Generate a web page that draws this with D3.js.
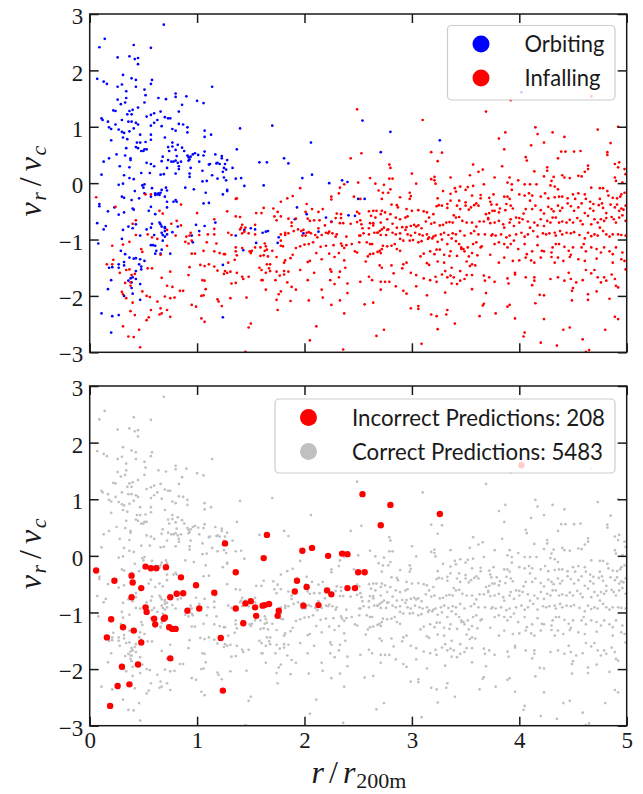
<!DOCTYPE html>
<html>
<head>
<meta charset="utf-8">
<script src="https://cdn.jsdelivr.net/npm/d3@7"></script>
<style>
  body { margin: 0; background: #fff; }
  .serif { font-family: "Liberation Serif", "DejaVu Serif", serif; }
  .sans { font-family: "Lato", "Open Sans", sans-serif; }
</style>
</head>
<body>
<svg id="fig" width="643" height="794"></svg>
<script>
// Particles as [r / r200m, v_r / v_c]
const orbiting = [
[.69,2.81],[.14,2.56],[.09,2.41],[.41,2.45],[.57,2.40],[.26,2.23],[.37,2.25],[.42,2.20],[.45,2.22],[.45,2.11],[.07,1.85],[.13,1.80],[.16,1.76],[.31,1.92],[.39,1.86],[.43,1.83],[.58,1.83],[.57,1.76],[.26,1.71],[.30,1.75],[.43,1.71],[.51,1.66],[1.14,1.71],[.34,1.63],[.52,1.56],[.80,1.59],[.80,1.53],[.90,1.54],[.26,1.48],[.34,1.51],[.64,1.51],[.71,1.49],[.29,1.40],[.33,1.43],[.51,1.43],[1.00,1.46],[1.06,1.42],[.86,1.39],[.22,1.29],[.24,1.28],[.37,1.28],[.40,1.30],[.45,1.34],[.35,1.22],[.39,1.22],[.83,1.27],[.11,1.15],[.12,1.12],[.17,1.09],[.30,1.12],[.24,1.04],[.36,1.09],[.39,1.09],[.43,1.07],[.45,1.04],[.53,1.18],[.57,1.21],[.60,1.24],[.66,1.27],[.70,1.17],[.73,1.15],[.75,1.15],[.63,1.12],[.60,1.07],[.57,1.02],[.67,1.01],[.77,.96],[.80,.93],[.83,1.05],[.87,1.04],[.91,.99],[.18,.99],[.20,.96],[.27,.95],[.30,.91],[.32,.89],[.37,.92],[.41,.97],[.47,.86],[.57,.86],[.91,.90],[1.07,.93],
[.31,.81],[.35,.78],[.20,.76],[.44,.72],[.47,.72],[.52,.73],[.57,.77],[.70,.81],[.77,.72],[.82,.68],[.77,.65],[1.07,.82],[1.13,.86],[.86,.63],[.43,.64],[.45,.62],[.48,.57],[.50,.57],[.51,.60],[.53,.60],[.34,.62],[.25,.51],[.33,.49],[.38,.44],[.38,.41],[.80,.59],[.73,.64],[.74,.57],[.88,.57],[.91,.49],[.92,.46],[.93,.42],[.94,.47],[.96,.51],[.98,.53],[1.01,.50],[1.07,.56],[1.17,.51],[1.23,.48],[1.23,.44],[1.06,.49],[.81,.48],
[.18,.44],[.13,.38],[.28,.30],[.37,.28],[.53,.36],[.57,.34],[.60,.30],[.68,.47],[.67,.39],[.73,.41],[.76,.38],[.78,.38],[.80,.40],[.82,.36],[.83,.30],[.83,.25],[.72,.27],[.85,.38],[.92,.40],[.94,.27],[1.02,.38],[1.11,.33],[1.12,.34],[1.18,.35],[1.19,.36],[1.21,.34],[.11,.15],[.32,.14],[.37,.09],[.41,.07],[.48,.18],[.56,.18],[.66,.15],[.69,.16],[.80,.17],[.93,.17],[.93,.11],[1.05,.22],[1.14,.14],[1.19,.08],[1.25,.10],[1.24,.20],
[.27,-.03],[.31,-.01],[.49,-.04],[.51,-.02],[.50,-.08],[.58,-.09],[.61,-.18],[.61,-.21],[.63,-.20],[.64,-.18],[.65,-.21],[.66,-.17],[.67,-.12],[.71,-.08],[.72,-.13],[.70,-.24],[.42,-.14],[.51,-.18],[.57,-.24],[.89,-.08],[.97,-.11],[1.08,-.17],[1.05,.03],[1.09,.04],[1.24,-.20],[.30,-.24],[.32,-.26],[.46,-.27],[.39,-.30],[.80,-.30],[.81,-.33],[.72,-.33],[.57,-.42],[.09,-.37],[.09,-.41],[.23,-.43],[.17,-.50],[.40,-.45],[.41,-.47],[.32,-.52],[.27,-.56],[.55,-.49],[.61,-.55],[.72,-.43],[.78,-.33],[1.06,-.36],[1.11,-.35],
[.07,-.71],[.15,-.76],[.13,-.82],[.43,-.73],[.58,-.72],[.36,-.77],[.65,-.70],[.66,-.73],[.67,-.77],[.70,-.78],[.70,-.80],[.70,-.85],[.67,-.88],[.68,-.92],[.70,-.95],[.72,-.91],[.77,-.87],[.40,-.80],[.31,-.83],[.53,-.82],[.57,-.79],[.82,-.77],[.99,-.74],[1.07,-.76],[1.17,-.70],[.30,-.99],[.47,-.93],[.60,-.92],[.68,-1.02],[.96,-1.05],[1.02,-.85],[.95,-.93],[.08,-1.07],[.57,-1.10],[.59,-1.10],[.61,-1.11],[.62,-1.20],[.67,-1.18],[.61,-1.25],[.66,-1.25],[.75,-1.25],[.29,-1.20],[.33,-1.26],[.37,-1.32],[.41,-1.34],[.43,-1.33],[.47,-1.35],[.51,-1.38],[.32,-1.40],[.27,-1.44],[.21,-1.49],[.27,-1.50],[.32,-1.46],[.46,-1.44],[.48,-1.48],[.43,-1.56],[.48,-1.53],[.40,-1.67],[.38,-1.69],[.39,-1.76],[.43,-1.70],[.36,-1.73],[.20,-1.72],[.18,-1.50],[.39,-1.86],[.17,-1.88],[.47,-1.79],[.40,-1.96],[.32,-2.00],[.47,-2.07],[.11,-2.31],[.21,-2.36],[.27,-2.34],[.20,-2.65],[1.24,-2.38],[1.24,-1.45],
[1.70,1.02],[1.40,.97],[1.37,.60],[2.06,.72],[1.28,.41],[1.26,.34],[1.25,.27],[1.27,.24],[1.27,.05],[1.33,.27],[1.58,.37],[1.65,.37],[1.81,.44],[1.85,.35],[1.36,.08],[1.41,.09],[1.44,-.05],[1.62,-.04],[1.98,.09],[2.07,.15],[2.23,.00],[2.35,.05],[2.40,.02],[1.28,-.14],[1.28,-.12],[2.50,-.28],[1.93,-.43],[1.91,-.64],[2.02,-.55],[2.20,-.61],[2.25,-.68],[2.41,-.57],[2.47,-.58],[1.50,-.80],[1.54,-.82],[1.44,-.83],[1.36,-.93],[1.61,-.88],[1.64,-.86],[1.66,-.85],[1.76,-.96],[1.75,-1.06],[1.55,-1.06],[1.99,-.89],[2.13,-.86],[1.43,-1.19],
[2.54,1.11],[2.80,.91],[3.26,.76],[2.71,.55],[2.56,-.28],[4.02,1.61]
];

const infalling = [
[.06,-.25],[.24,-.42],[.65,-.49],[.68,-.54],[.57,-.20],[.52,-.20],[.40,-.72],[.43,-.66],[.85,-.38],[1.00,-.53],[.81,-.67],[.85,-.75],[1.16,-.64],[1.16,-.81],[.76,-.72],[.72,-.83],[.80,-.93],[.90,-.95],[.93,-.93],[.95,-1.02],[.89,-1.04],[.92,-1.07],[.94,-.88],[1.02,-.92],[1.10,-.91],[1.16,-.91],[1.09,-1.05],[1.18,-1.07],[.43,-.92],[.31,-1.09],[.21,-1.11],[.54,-.91],[.58,-.96],[.63,-.99],[.37,-1.04],[.66,-1.27],[.48,-1.17],[.49,-1.22],[.72,-1.11],[.95,-1.25],[.98,-1.25],[1.06,-1.20],[1.16,-1.21],[1.21,-1.24],[1.25,-1.26],[.22,-1.36],[.21,-1.44],[.16,-1.44],[.28,-1.59],[.34,-1.54],[.37,-1.53],[.39,-1.63],[.42,-1.61],[.54,-1.51],[.58,-1.51],[.75,-1.57],[.93,-1.49],[1.03,-1.45],[1.07,-1.47],[1.11,-1.44],[1.16,-1.48],[1.19,-1.55],[1.25,-1.61],[.92,-1.63],[.33,-1.77],[.38,-1.76],[.38,-1.82],[.67,-1.68],[.72,-1.82],[.77,-1.84],[.79,-2.03],[1.05,-1.72],[1.07,-1.73],[1.08,-1.88],[.30,-1.93],[.31,-1.97],[.34,-2.04],[.49,-1.92],[.53,-2.00],[.56,-2.02],[.70,-2.01],[.75,-2.04],[.84,-1.91],[.87,-1.91],[1.04,-2.00],[1.06,-1.99],[1.19,-2.06],[1.20,-2.10],[.40,-2.12],[.63,-2.10],[.95,-2.16],[.99,-2.19],[1.23,-2.18],[.38,-2.27],[.42,-2.34],[.57,-2.25],[.66,-2.22],[.67,-2.31],[.72,-2.25],[.65,-2.33],[.75,-2.37],[.46,-2.60],[.31,-2.54],[.36,-2.72],[.41,-2.73],[.55,-2.38],[.53,-2.43],[1.04,-2.40],[1.07,-2.46],[.47,-2.91],
[2.49,1.31],[2.43,.44],[1.96,-.09],[2.33,-.08],[2.37,-.02],[2.25,-.24],[2.25,-.29],[2.32,-.18],[2.46,-.24],[1.36,-.28],[1.37,-.27],[1.28,-.50],[1.78,-.33],[1.84,-.27],[1.89,-.23],[1.71,-.45],[1.62,-.44],[1.55,-.53],[1.60,-.53],[1.75,-.51],[1.78,-.59],[1.72,-.59],[1.74,-.66],[1.85,-.63],[1.88,-.70],[1.92,-.63],[1.88,-.76],[1.94,-.82],[2.02,-.37],[2.01,-.51],[2.07,-.46],[2.13,-.51],[2.17,-.46],[2.03,-.63],[2.05,-.67],[2.09,-.66],[2.14,-.66],[2.13,-.80],[2.19,-.75],[2.25,-.69],[2.30,-.54],[2.34,-.55],[2.29,-.62],[2.34,-.62],[2.33,-.71],[2.36,-.71],[2.43,-.72],[2.49,-.69],[1.36,-.59],[1.40,-.60],[1.42,-.74],[1.41,-.79],[1.40,-.82],[1.44,-.86],[1.45,-.79],[1.54,-.74],[1.54,-.91],[1.29,-.88],[1.32,-.92],[1.42,-.89],[1.48,-.89],[1.78,-.91],[1.82,-.88],[1.82,-.92],[1.85,-.89],[1.90,-.85],[1.97,-.85],[1.99,-.83],[2.02,-.88],[2.04,-.87],[1.98,-.93],[2.01,-.93],[2.06,-.89],[2.10,-.92],[2.12,-.96],[2.16,-.92],[2.20,-.88],[2.22,-.89],[2.23,-.86],[2.26,-.89],[2.29,-.95],[2.30,-.91],[2.39,-.95],[2.51,-.93],[2.44,-1.08],[2.34,-1.07],[2.35,-1.11],[2.37,-1.15],[2.39,-1.10],[2.27,-1.10],[2.20,-1.11],[2.15,-1.13],[2.08,-1.05],[2.04,-1.08],[2.00,-1.09],[1.96,-1.12],[1.92,-1.15],[1.78,-1.02],[1.78,-1.11],[1.80,-1.12],[1.63,-1.07],[1.64,-1.12],[1.59,-1.14],[1.65,-1.18],[1.54,-1.14],[1.51,-1.20],[1.49,-1.21],[1.50,-1.24],[1.42,-1.15],[1.36,-1.14],[1.36,-1.21],[1.37,-1.28],[1.26,-1.26],[1.35,-1.36],[1.29,-1.41],[1.26,-1.56],[1.28,-1.59],[1.31,-1.57],[1.37,-1.59],[1.42,-1.66],[1.43,-1.70],[1.48,-1.66],[1.32,-1.78],[1.36,-1.77],[1.46,-2.03],[1.31,-2.04],[1.59,-1.29],[1.62,-1.28],[1.63,-1.20],[1.66,-1.30],[1.70,-1.20],[1.74,-1.31],[1.81,-1.41],[1.82,-1.37],[1.87,-1.33],[1.89,-1.27],[1.96,-1.54],[2.03,-1.40],[2.05,-1.38],[2.09,-1.59],[2.11,-1.24],[2.16,-1.35],[2.23,-1.25],[2.28,-1.31],[2.32,-1.24],[2.37,-1.37],[2.47,-1.21],[2.49,-1.23],[1.58,-1.50],[1.60,-1.54],[1.65,-1.44],[1.68,-1.44],[1.67,-1.51],[1.64,-1.59],[1.68,-1.56],[1.74,-1.57],[1.81,-1.56],[1.81,-1.62],[1.85,-1.57],[1.77,-1.64],[1.84,-1.76],[1.88,-1.84],[1.92,-1.89],[1.60,-1.72],[1.61,-1.72],[1.73,-1.72],[1.64,-1.89],[1.76,-1.97],[1.78,-1.92],[1.74,-2.07],[1.87,-2.09],[2.03,-1.72],[2.04,-2.08],[2.16,-1.89],[2.17,-2.03],[2.24,-1.53],[2.25,-1.57],[2.33,-1.57],[2.38,-1.50],[2.24,-1.72],[2.28,-1.79],[2.32,-1.67],[2.40,-1.78],[2.40,-1.95],[2.33,-2.08],[2.25,-2.16],[2.37,-2.31],[1.75,-2.25],[1.48,-2.56],[1.50,-2.49],[2.11,-2.54],[2.05,-2.79],[2.36,-2.95],[1.45,-2.99],
[3.69,1.27],[3.10,1.12],[2.53,.53],[3.18,.55],[3.28,.54],[3.24,.39],[2.79,.33],[2.80,.27],[3.57,.33],[3.66,.24],[3.62,.20],[3.54,.14],[3.00,.17],[2.61,.09],[2.79,.08],[2.82,.08],[3.18,.07],[3.21,.11],[3.21,.05],[3.22,-.01],[3.36,.10],[3.67,-.02],[2.50,.01],[2.66,-.01],[2.74,-.03],[2.73,-.17],[2.78,-.17],[2.80,-.11],[2.69,-.13],[2.72,-.28],[2.89,-.25],[2.98,-.17],[2.99,-.23],[2.98,-.28],[3.04,-.01],[3.24,-.27],[3.29,-.14],[3.33,-.37],[3.36,-.19],[3.40,-.09],[3.41,-.15],[3.45,-.06],[3.50,-.12],[3.52,-.07],[3.57,-.05],[3.56,-.22],[3.64,-.21],[3.64,-.27],[3.72,-.26],[3.73,-.33],[3.74,-.38],[2.52,-.28],[2.49,-.51],[2.51,-.54],[2.60,-.50],[2.64,-.49],[2.67,-.49],[2.72,-.49],[2.75,-.52],[2.62,-.58],[2.66,-.61],[2.71,-.55],[2.81,-.38],[2.86,-.39],[2.87,-.43],[2.80,-.55],[2.85,-.61],[2.89,-.64],[2.94,-.61],[2.96,-.59],[2.95,-.46],[3.00,-.49],[3.06,-.48],[3.11,-.50],[3.14,-.52],[3.16,-.61],[3.20,-.55],[3.23,-.41],[3.25,-.39],[3.28,-.40],[3.33,-.44],[3.36,-.31],[3.39,-.57],[3.42,-.40],[3.44,-.31],[3.45,-.46],[3.50,-.40],[3.50,-.34],[3.53,-.47],[3.55,-.43],[3.58,-.39],[3.60,-.36],[3.62,-.40],[3.69,-.55],[3.71,-.64],[3.72,-.53],[3.75,-.49],
[2.52,-.66],[2.53,-.73],[2.61,-.71],[2.64,-.71],[2.71,-.70],[2.77,-.64],[2.82,-.72],[2.54,-.80],[2.60,-.80],[2.64,-.75],[2.68,-.88],[2.70,-.85],[2.72,-.82],[2.74,-.79],[2.77,-.83],[2.78,-.82],[2.86,-.79],[2.91,-.78],[2.95,-.78],[2.99,-.76],[3.02,-.74],[3.04,-.77],[3.06,-.75],[3.09,-.80],[3.13,-.68],[3.18,-.72],[3.21,-.70],[3.26,-.75],[3.29,-.74],[3.32,-.70],[3.35,-.69],[3.38,-.70],[3.41,-.61],[3.44,-.60],[3.47,-.67],[3.51,-.70],[3.56,-.70],[3.60,-.77],[3.63,-.68],[3.67,-.68],[3.71,-.62],[3.73,-.71],[2.52,-.93],[2.55,-.89],[2.60,-.91],[2.65,-.88],[2.68,-.88],[2.71,-.92],[2.76,-.92],[2.82,-.88],[2.85,-.91],[2.89,-.89],[2.94,-.83],[2.96,-.91],[2.99,-.93],[3.03,-.88],[3.07,-.91],[3.10,-.93],[3.14,-.91],[3.16,-.96],[3.20,-.95],[3.22,-.93],[3.27,-.91],[3.30,-.88],[3.34,-.92],[3.38,-.89],[3.41,-.91],[3.45,-.85],[3.49,-.93],[3.55,-.89],[3.58,-.85],[3.62,-.91],[3.68,-.91],[3.74,-.93],
[2.51,-1.05],[2.58,-1.05],[2.61,-1.08],[2.63,-1.08],[2.73,-1.11],[2.77,-1.12],[2.81,-1.11],[2.84,-1.08],[2.89,-.99],[2.92,-1.02],[2.98,-1.02],[3.01,-1.01],[3.06,-1.05],[3.09,-1.03],[3.15,-.99],[3.19,-.98],[3.24,-1.04],[3.28,-1.00],[3.33,-1.08],[3.37,-.98],[3.41,-1.03],[3.44,-1.08],[3.46,-1.14],[3.48,-1.17],[3.52,-1.14],[3.57,-1.08],[3.60,-1.05],[3.65,-1.12],[2.68,-1.22],[2.70,-1.20],[2.72,-1.17],[2.61,-1.26],[2.59,-1.30],[2.57,-1.39],[2.64,-1.25],[2.71,-1.24],[2.86,-1.17],[2.89,-1.20],[3.08,-1.30],[3.11,-1.25],[3.17,-1.21],[3.21,-1.26],[3.23,-1.18],[3.26,-1.18],[3.30,-1.27],[3.35,-1.29],[3.36,-1.21],[3.42,-1.29],[3.46,-1.17],[3.49,-1.21],[3.53,-1.30],[3.56,-1.24],[3.61,-1.28],[3.64,-1.14],[3.73,-1.27],
[2.70,-1.46],[2.72,-1.50],[2.81,-1.46],[2.92,-1.44],[2.95,-1.41],[2.91,-1.51],[2.83,-1.60],[2.99,-1.59],[3.04,-1.63],[3.14,-1.42],[3.16,-1.45],[3.24,-1.39],[3.30,-1.41],[3.31,-1.56],[3.37,-1.50],[3.36,-1.64],[3.39,-1.67],[3.45,-1.56],[3.51,-1.39],[3.54,-1.47],[3.56,-1.44],[3.51,-1.63],[3.56,-1.63],[3.59,-1.46],[3.67,-1.64],[3.68,-1.73],[3.72,-1.67],[2.60,-1.66],[2.63,-1.72],[2.52,-1.75],[2.71,-1.75],[2.75,-1.75],[2.79,-1.75],[2.85,-1.83],[2.92,-1.91],[2.95,-1.96],[3.04,-1.83],[3.11,-1.69],[3.17,-1.72],[3.22,-1.66],[3.23,-1.75],[3.28,-1.62],[3.33,-1.67],[3.37,-1.78],[3.42,-1.79],[3.45,-1.73],[3.49,-1.70],[3.56,-1.88],[3.31,-1.94],[2.71,-1.89],[3.14,-1.99],[3.69,-1.95],[2.56,-2.15],[2.64,-2.12],[2.99,-2.22],[3.06,-2.18],[3.06,-2.23],[3.18,-2.33],[3.23,-2.36],[3.32,-2.33],[3.33,-2.25],[3.40,-2.49],[3.63,-2.36],[3.66,-2.17],[3.67,-2.14],[2.74,-2.60],[2.67,-2.71],[3.24,-2.59],[3.09,-2.85],
[4.67,1.54],[3.92,1.47],[4.15,.99],[3.87,.90],[3.81,.79],[4.31,.90],[4.17,.87],[4.23,.72],[4.11,.67],[4.42,.82],[3.86,.60],[4.39,.56],[4.43,.56],[4.51,.56],[4.57,.57],[4.73,.95],[4.92,1.00],[4.85,.71],[4.82,.55],[4.82,.50],[4.06,.46],[4.07,.40],[3.84,.30],[4.36,.44],[4.14,.21],[4.26,.28],[4.26,.22],[4.64,.31],[4.64,.25],[4.61,.20],[4.58,.12],[4.89,.34],[4.93,.37],[4.92,.28],[4.98,.25],[4.99,.16],[4.89,.10],[3.77,.10],[3.89,.01],[3.91,.10],[3.93,-.02],[3.99,.05],[4.05,-.02],[4.10,-.02],[4.16,-.02],[4.23,.12],[4.32,.11],[4.30,.04],[4.40,.14],[4.42,.10],[4.47,.09],[4.55,.13],[4.29,-.04],[4.33,-.06],[4.36,-.11],[4.67,-.08],[4.75,-.09],[4.78,-.09],[4.82,-.14],[4.90,.04],[4.96,.01],
[3.76,-.20],[3.86,-.24],[3.89,-.24],[3.91,-.28],[3.92,-.40],[3.88,-.37],[3.93,-.12],[4.00,-.20],[4.05,-.22],[4.09,-.18],[4.12,-.22],[4.10,-.31],[4.20,-.24],[4.24,-.18],[4.27,-.27],[4.33,-.25],[4.37,-.24],[4.40,-.24],[4.45,-.27],[4.50,-.20],[4.52,-.28],[4.55,-.18],[4.61,-.20],[4.62,-.28],[4.66,-.33],[4.69,-.37],[4.75,-.28],[4.77,-.36],[4.83,-.22],[4.87,-.26],[4.91,-.27],[4.94,-.24],[4.95,-.20],[4.98,-.17],[3.79,-.38],[3.77,-.49],[3.81,-.52],[3.82,-.45],[3.87,-.48],[3.94,-.45],[3.97,-.61],[4.00,-.62],[4.04,-.54],[4.06,-.46],[4.12,-.46],[4.15,-.40],[4.20,-.48],[4.23,-.54],[4.27,-.42],[4.30,-.46],[4.32,-.50],[4.36,-.40],[4.38,-.49],[4.40,-.44],[4.45,-.36],[4.48,-.41],[4.51,-.49],[4.55,-.43],[4.58,-.36],[4.61,-.53],[4.66,-.45],[4.69,-.49],[4.74,-.39],[4.78,-.44],[4.81,-.53],[4.85,-.38],[4.89,-.43],[4.91,-.38],[4.93,-.49],[4.95,-.45],[4.97,-.47],[4.99,-.40],
[3.77,-.70],[3.81,-.67],[3.85,-.73],[3.86,-.79],[3.91,-.70],[3.92,-.64],[3.95,-.76],[4.00,-.70],[4.03,-.64],[4.08,-.68],[4.10,-.79],[4.14,-.70],[4.17,-.75],[4.20,-.64],[4.23,-.76],[4.26,-.67],[4.29,-.70],[4.31,-.61],[4.34,-.61],[4.37,-.70],[4.40,-.68],[4.44,-.70],[4.47,-.65],[4.50,-.70],[4.54,-.62],[4.57,-.67],[4.59,-.73],[4.64,-.58],[4.67,-.73],[4.70,-.64],[4.73,-.70],[4.75,-.79],[4.76,-.64],[4.79,-.67],[4.81,-.62],[4.86,-.60],[4.88,-.64],[4.90,-.70],[4.93,-.61],[4.96,-.57],[4.99,-.67],
[3.75,-.91],[3.78,-.93],[3.83,-.91],[3.88,-.96],[3.91,-.93],[3.95,-1.02],[3.97,-.91],[4.02,-.88],[4.05,-.95],[4.08,-.91],[4.13,-.85],[4.17,-.95],[4.22,-.89],[4.25,-.91],[4.28,-.89],[4.33,-.88],[4.34,-.93],[4.38,-.85],[4.40,-.91],[4.44,-.88],[4.48,-.89],[4.51,-.87],[4.56,-.92],[4.61,-.98],[4.64,-.88],[4.67,-.94],[4.70,-.91],[4.73,-.93],[4.78,-.85],[4.81,-.91],[4.84,-.95],[4.87,-.91],[4.92,-.91],[4.95,-.92],[4.99,-.93],
[3.77,-1.08],[3.81,-1.05],[3.86,-1.08],[3.89,-1.14],[3.92,-1.08],[3.99,-1.17],[4.05,-1.08],[4.07,-1.26],[4.12,-1.21],[4.17,-1.10],[4.21,-1.20],[4.23,-1.21],[4.30,-1.23],[4.31,-1.14],[4.34,-1.08],[4.37,-1.08],[4.42,-1.13],[4.46,-1.20],[4.48,-1.27],[4.50,-1.14],[4.58,-1.14],[4.60,-1.08],[4.62,-1.21],[4.67,-1.14],[4.72,-1.17],[4.76,-1.23],[4.79,-1.14],[4.84,-1.21],[4.87,-1.26],[4.90,-1.14],[4.96,-1.23],
[3.86,-1.32],[3.81,-1.41],[3.94,-1.38],[3.96,-1.59],[3.96,-1.62],[4.00,-1.37],[4.06,-1.32],[4.11,-1.37],[4.14,-1.41],[4.20,-1.32],[4.30,-1.31],[4.33,-1.41],[4.36,-1.32],[4.41,-1.38],[4.47,-1.31],[4.55,-1.35],[4.61,-1.38],[4.72,-1.34],[4.87,-1.41],[4.95,-1.35],[4.98,-1.38],[4.99,-1.53],
[3.77,-1.75],[3.89,-1.69],[3.90,-1.78],[4.06,-1.67],[4.12,-1.81],[4.14,-1.73],[4.19,-1.98],[4.23,-1.99],[4.29,-1.70],[4.36,-1.67],[4.42,-1.73],[4.46,-1.59],[4.48,-1.70],[4.50,-1.86],[4.49,-1.91],[4.53,-1.76],[4.59,-1.72],[4.62,-1.54],[4.67,-1.60],[4.70,-1.54],[4.73,-1.67],[4.64,-1.97],[4.72,-1.92],[4.79,-1.67],[4.81,-1.73],[4.86,-1.62],[4.89,-1.70],[4.90,-1.82],[4.92,-1.85],[4.84,-2.05],[4.64,-2.07],[4.49,-2.08],[4.76,-1.76],[4.14,-1.67],
[3.78,-2.31],[3.89,-2.19],[3.91,-2.16],[3.96,-2.40],[4.05,-2.65],[4.04,-2.72],[4.15,-2.13],[4.23,-2.41],[4.41,-2.60],[4.47,-2.56],[4.59,-2.77],[4.80,-2.60],[4.89,-2.37],[4.92,-2.41],[4.20,-2.83],[4.35,-2.88],[4.62,-2.99],[4.65,-2.96]
];

// Particles whose class was predicted wrongly
const incorrect = [
[.06,-.26],[.23,-.44],[.39,-.35],[.40,-.47],[.39,-.73],[.48,-.57],[.52,-.19],[.57,-.22],[.62,-.22],[.71,-.20],[.85,-.38],[.52,-.91],[.53,-.99],[.20,-1.12],[.60,-1.11],[.61,-1.21],[.69,-1.11],[.70,-1.09],[.75,-.73],[.74,-1.26],[.77,-1.29],[.80,-1.29],[.81,-.67],[.87,-.66],[.91,-.97],[.99,-.52],[1.02,-.93],[1.16,-.65],[1.26,.22],[1.36,-.29],[1.36,-.93],[1.43,-1.19],[1.45,-.84],[1.50,-.80],[1.54,-.91],[1.55,-1.06],[1.62,-.04],[1.65,.37],[1.61,-.88],[1.63,-.87],[1.67,-.85],[1.76,-.97],[1.75,-1.06],[.16,-1.44],[.31,-1.26],[.41,-1.32],[.48,-1.53],[.45,-1.92],[.30,-1.96],[.26,-2.30],[.37,-2.27],[.19,-2.65],[.75,-1.81],[1.22,-1.45],[1.24,-2.38],[1.91,-.63],[1.93,-.44],[1.98,.09],[2.02,-.55],[2.07,.14],[1.99,-.88],[2.13,-.87],[2.22,.00],[2.21,-.61],[2.35,.04],[2.40,.03],[2.50,-.29],[2.56,-.29],[2.25,-.68],[2.40,-.57],[2.47,-.57],[2.54,1.09],[2.80,.90],[2.71,.54],[3.26,.74],[4.02,1.60]
];

const xTicks = [0, 1, 2, 3, 4, 5];
const yTicks = [-3, -2, -1, 0, 1, 2, 3];
const topLegend = [
  { label: "Orbiting", color: "#0000ff", width: 80 },
  { label: "Infalling", color: "#ff0000", width: 76 }
];
const bottomLegend = [
  { label: "Incorrect Predictions: 208", color: "#ff0000", width: 253 },
  { label: "Correct Predictions: 5483", color: "#c0c0c0", width: 251 }
];

const svg = d3.select("#fig");
const INK = "#1a1a1a";

const x = d3.scaleLinear().domain([0, 5]).range([89.7, 626.7]);
const panels = [
  { top: 14, bottom: 352.3, xLabels: false },
  { top: 386, bottom: 725.7, xLabels: true }
];

function styleAxis(g) {
  g.attr("font-family", null).attr("font-size", null);
  g.select(".domain").remove();
  g.selectAll(".tick line").attr("stroke", INK).attr("stroke-width", 1.5);
  g.selectAll(".tick text").attr("class", "serif").attr("fill", INK).style("font-size", "23px");
}

function drawPanel(idx, layers, legendItems, legendBox) {
  const P = panels[idx];
  const y = d3.scaleLinear().domain([-3, 3]).range([P.bottom, P.top]);
  const [x0, x1] = x.range();

  const clipId = "plot-clip-" + idx;
  svg.append("clipPath").attr("id", clipId)
    .append("rect").attr("x", x0).attr("y", P.top)
    .attr("width", x1 - x0).attr("height", P.bottom - P.top);

  const marks = svg.append("g").attr("clip-path", `url(#${clipId})`);
  layers.forEach(L => {
    marks.append("g").selectAll("circle").data(L.data).join("circle")
      .attr("cx", d => x(d[0]))
      .attr("cy", d => y(d[1]))
      .attr("r", L.r)
      .attr("fill", L.color);
  });

  const T = 9;
  const fmt = d3.format("d");
  svg.append("g").attr("transform", `translate(${x0},0)`)
    .call(d3.axisLeft(y).tickValues(yTicks).tickSizeInner(-T).tickSizeOuter(0).tickPadding(6.5).tickFormat(fmt))
    .call(styleAxis)
    .call(g => g.selectAll(".tick text").attr("dy", "0.42em"));
  svg.append("g").attr("transform", `translate(${x1},0)`)
    .call(d3.axisRight(y).tickValues(yTicks).tickSizeInner(-T).tickSizeOuter(0).tickFormat(""))
    .call(styleAxis);
  svg.append("g").attr("transform", `translate(0,${P.top})`)
    .call(d3.axisTop(x).tickValues(xTicks).tickSizeInner(-T).tickSizeOuter(0).tickFormat(""))
    .call(styleAxis);
  svg.append("g").attr("transform", `translate(0,${P.bottom})`)
    .call(d3.axisBottom(x).tickValues(xTicks).tickSizeInner(-T).tickSizeOuter(0).tickPadding(6)
      .tickFormat(P.xLabels ? fmt : ""))
    .call(styleAxis);

  // frame
  svg.append("rect")
    .attr("x", x0).attr("y", P.top)
    .attr("width", x1 - x0).attr("height", P.bottom - P.top)
    .attr("fill", "none").attr("stroke", INK).attr("stroke-width", 1.5);

  // y label: v_r / v_c
  const yl = svg.append("text").attr("class", "serif")
    .attr("transform", `translate(40.5,${(P.top + P.bottom) / 2 - 2}) rotate(-90)`)
    .attr("text-anchor", "middle")
    .style("font-size", "32px").attr("fill", INK);
  yl.append("tspan").style("font-style", "italic").text("v");
  yl.append("tspan").style("font-style", "italic").style("font-size", "22px").attr("dx", 1.5).attr("dy", 5).text("r");
  yl.append("tspan").attr("dy", -5).attr("dx", 6).text("/");
  yl.append("tspan").style("font-style", "italic").attr("dx", 6).text("v");
  yl.append("tspan").style("font-style", "italic").style("font-size", "22px").attr("dx", 1.5).attr("dy", 5).text("c");

  // legend
  const lg = svg.append("g");
  lg.append("rect")
    .attr("x", legendBox.x).attr("y", legendBox.y)
    .attr("width", legendBox.w).attr("height", legendBox.h)
    .attr("rx", 4).attr("fill", "#fff").attr("fill-opacity", 0.8)
    .attr("stroke", "#cccccc").attr("stroke-width", 1.2);
  legendItems.forEach((it, i) => {
    const cy = legendBox.y + 18.5 + i * 34;
    lg.append("circle").attr("cx", legendBox.x + 33.5).attr("cy", cy).attr("r", 8.5).attr("fill", it.color);
    lg.append("text").attr("class", "sans")
      .attr("x", legendBox.x + 77).attr("y", cy + 8.3)
      .style("font-size", "23px").attr("fill", INK)
      .attr("textLength", it.width).attr("lengthAdjust", "spacingAndGlyphs")
      .text(it.label);
  });
}

drawPanel(0,
  [{ data: orbiting, color: "#0000ff", r: 1.35 }, { data: infalling, color: "#ff0000", r: 1.35 }],
  topLegend, { x: 447.5, y: 25.5, w: 167.5, h: 74.5 });

drawPanel(1,
  [{ data: orbiting.concat(infalling), color: "#c0c0c0", r: 1.35 }, { data: incorrect, color: "#ff0000", r: 3.2 }],
  bottomLegend, { x: 275, y: 399, w: 340, h: 74 });

// x label: r / r_200m
const xl = svg.append("text").attr("class", "serif")
  .attr("x", 359).attr("y", 783)
  .attr("text-anchor", "middle")
  .style("font-size", "32px").attr("fill", INK);
xl.append("tspan").style("font-style", "italic").text("r");
xl.append("tspan").attr("dx", 5).text("/");
xl.append("tspan").style("font-style", "italic").attr("dx", 5).text("r");
xl.append("tspan").style("font-size", "22px").attr("dx", 1).attr("dy", 5).text("200m");
</script>
</body>
</html>
